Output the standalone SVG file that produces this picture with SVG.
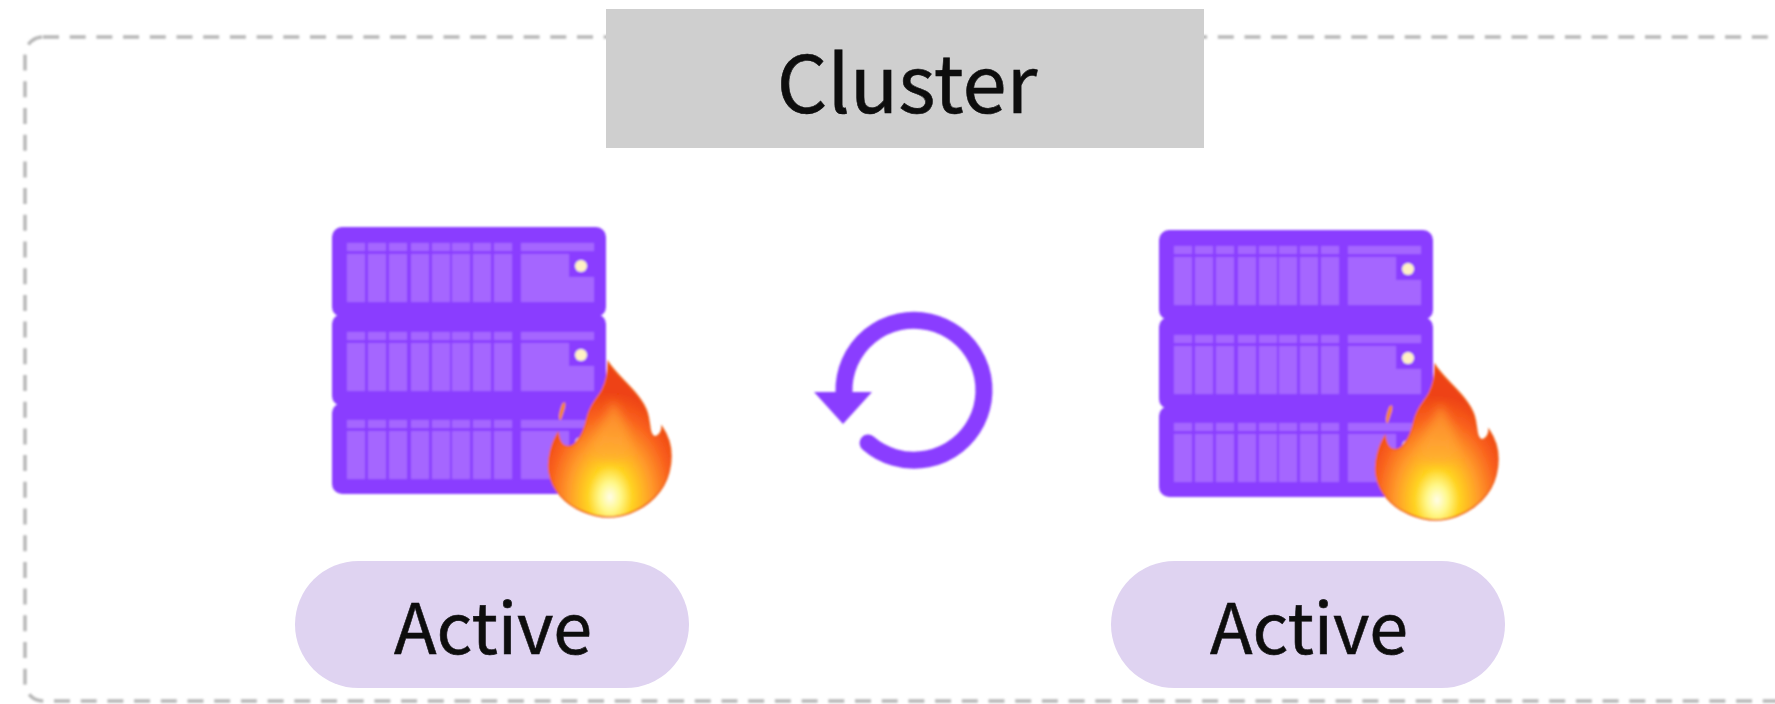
<svg xmlns="http://www.w3.org/2000/svg" width="1775" height="704" viewBox="0 0 1775 704">
<style>
.label{font-family:"Noto Sans CJK KR","Noto Sans",sans-serif;fill:#111;stroke:#111;stroke-width:0.6;text-anchor:middle}
.pill{fill:#dfd3f1}
.body{fill:#8a3cff}
.cell{fill:#a566ff}
.dot{fill:#fff2c4}
</style>
<defs>
<filter id="soft" filterUnits="userSpaceOnUse" x="0" y="0" width="1775" height="704"><feGaussianBlur stdDeviation="1"/></filter>
<filter id="textsoft" filterUnits="userSpaceOnUse" x="0" y="0" width="1775" height="704"><feGaussianBlur stdDeviation="0.6"/></filter>
<filter id="glow" x="-30%" y="-30%" width="160%" height="160%"><feGaussianBlur stdDeviation="5"/></filter>
<radialGradient id="fire" gradientUnits="userSpaceOnUse" cx="610" cy="497" r="72" gradientTransform="translate(610 497) scale(1.05 1.45) translate(-610 -497)">
<stop offset="0" stop-color="#fffde8"/><stop offset="0.14" stop-color="#fff88a"/><stop offset="0.3" stop-color="#ffd21f"/><stop offset="0.55" stop-color="#ff9a2a"/><stop offset="0.8" stop-color="#f9601d"/><stop offset="1" stop-color="#ee4312"/>
</radialGradient>
<g id="rowcells">
<rect class="cell" x="347" width="18" height="8"/><rect class="cell" x="368" width="18" height="8"/><rect class="cell" x="389" width="18" height="8"/><rect class="cell" x="411" width="18" height="8"/><rect class="cell" x="432" width="18" height="8"/><rect class="cell" x="452" width="18" height="8"/><rect class="cell" x="473" width="18" height="8"/><rect class="cell" x="494" width="18" height="8"/><rect class="cell" x="521" width="73" height="8"/>
<rect class="cell" x="347" y="11" width="18" height="48"/><rect class="cell" x="368" y="11" width="18" height="48"/><rect class="cell" x="389" y="11" width="18" height="48"/><rect class="cell" x="411" y="11" width="18" height="48"/><rect class="cell" x="432" y="11" width="18" height="48"/><rect class="cell" x="452" y="11" width="18" height="48"/><rect class="cell" x="473" y="11" width="18" height="48"/><rect class="cell" x="494" y="11" width="18" height="48"/>
<path class="cell" d="M521 11H569V34H594V59H521Z"/>
<circle class="dot" cx="581" cy="23" r="6"/>
</g>
<g id="server">
<rect class="body" x="332" y="227" width="274" height="90" rx="10"/>
<rect class="body" x="332" y="314" width="274" height="92" rx="10"/>
<rect class="body" x="332" y="403" width="274" height="91" rx="10"/>
<use href="#rowcells" y="243"/>
<use href="#rowcells" y="332"/>
<use href="#rowcells" y="420"/>
</g>
<g id="flame">
<path fill="url(#fire)" stroke="#f0601c" stroke-width="1.5" d="M608 362C618 378 640 392 647 412C651 424 648 434 655 437C659 436 662 432 662 427C671 440 673 456 669 472C664 492 648 506 630 513C614 519 598 518 582 511C565 504 552 490 549 472C547 458 552 442 558 433C560 444 564 448 571 446C578 443 584 432 587 418C590 404 598 398 602 390C606 382 608 372 608 362Z"/>
<path fill="#ffa735" opacity="0.6" filter="url(#glow)" d="M613 400C622 415 630 430 630 450C630 465 590 465 592 450C594 432 606 420 613 400Z"/>
<path fill="#f7872a" d="M562 404C565 401 566 402 565 408L561 420C558 421 558 414 562 404Z"/>
</g>
</defs>

<g id="connectors"></g>

<g id="cluster-frame" filter="url(#soft)">
<rect x="25" y="37" width="1790" height="664" rx="18" fill="none" stroke="#b8b8b8" stroke-width="3.5" stroke-dasharray="16 10.7"/>
</g>

<g id="cluster-title">
<rect x="606" y="9" width="598" height="139" fill="#cfcfcf"/>
<text class="label" x="907" y="113" font-size="79.5" filter="url(#textsoft)">Cluster</text>
</g>

<g id="server-left" filter="url(#soft)">
<use href="#server"/>
<use href="#flame"/>
</g>
<g id="server-right" filter="url(#soft)">
<use href="#server" x="827" y="3"/>
<use href="#flame" x="827" y="3"/>
</g>

<g id="sync-icon" filter="url(#soft)">
<path d="M844 392A70 70 0 1 1 868 443" fill="none" stroke="#8a3cff" stroke-width="17" stroke-linecap="round"/>
<path d="M814 392H872L843 424Z" fill="#8a3cff"/>
</g>

<g id="active-left">
<rect class="pill" x="295" y="561" width="394" height="127" rx="63.5"/>
<text class="label" x="493" y="654" font-size="70" filter="url(#textsoft)">Active</text>
</g>
<g id="active-right">
<rect class="pill" x="1111" y="561" width="394" height="127" rx="63.5"/>
<text class="label" x="1309" y="654" font-size="70" filter="url(#textsoft)">Active</text>
</g>
</svg>
